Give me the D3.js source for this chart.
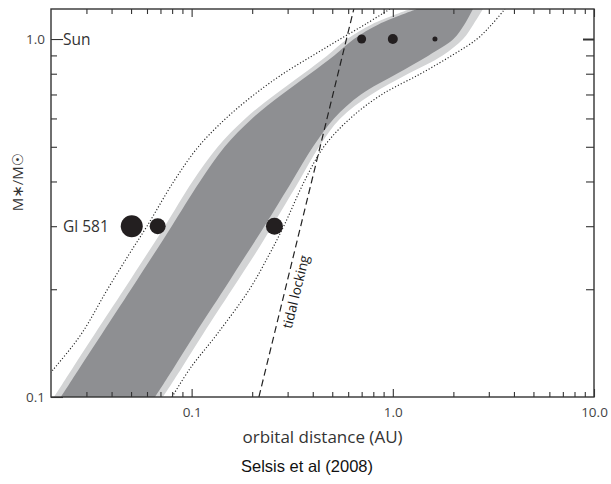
<!DOCTYPE html>
<html>
<head>
<meta charset="utf-8">
<script src="https://cdn.jsdelivr.net/npm/d3@7"></script>
<style>
  html, body { margin: 0; padding: 0; background: #fff; }
  svg { display: block; }
</style>
</head>
<body>
<svg id="chart" width="611" height="484"></svg>
<script>
// ---------- data (stellar mass in solar masses, orbital distance in AU) ----------
const massLevels  = [0.1, 0.12, 0.15, 0.2, 0.25, 0.3, 0.4, 0.5, 0.6, 0.7, 0.8, 0.9, 1.0, 1.1, 1.213];
const dottedInner = [0.0156, 0.0207, 0.0283, 0.0382, 0.0488, 0.0600, 0.0815, 0.108, 0.148, 0.205, 0.285, 0.401, 0.548, 0.731, 0.968];
const lightInner  = [0.0207, 0.0255, 0.0330, 0.0462, 0.0598, 0.0736, 0.101, 0.135, 0.185, 0.260, 0.359, 0.473, 0.593, 0.789, 1.220];
const darkInner   = [0.0224, 0.0276, 0.0358, 0.0500, 0.0647, 0.0796, 0.110, 0.146, 0.200, 0.281, 0.388, 0.512, 0.641, 0.853, 1.320];
const darkOuter   = [0.0658, 0.0810, 0.104, 0.145, 0.187, 0.230, 0.315, 0.401, 0.510, 0.694, 1.047, 1.509, 2.002, 2.273, 2.502];
const lightOuter  = [0.0720, 0.0888, 0.114, 0.159, 0.206, 0.251, 0.341, 0.430, 0.548, 0.782, 1.192, 1.769, 2.234, 2.519, 2.805];
const dottedOuter = [0.0799, 0.0981, 0.134, 0.194, 0.243, 0.287, 0.363, 0.454, 0.614, 0.882, 1.376, 1.968, 2.621, 3.111, 3.609];

const tidalMass = [0.1, 1.213];
const tidalDist = [0.216, 0.64];

const planetNames = ["Gl 581 b", "Gl 581 c", "Gl 581 d", "Venus", "Earth", "Mars"];
const planetDist  = [0.0504, 0.0678, 0.258, 0.70, 1.0, 1.62];
const planetMass  = [0.30, 0.30, 0.30, 1.0, 1.0, 1.0];
const planetSize  = [4.84, 2.56, 2.89, 0.81, 1.0, 0.25];   // relative (Earth = 1)

const xMajorTicks = [0.1, 1, 10];
const xMajorLabels = ["0.1", "1.0", "10.0"];
const xMinorTicks = [0.03,0.04,0.05,0.06,0.07,0.08,0.09,0.2,0.3,0.4,0.5,0.6,0.7,0.8,0.9,2,3,4,5,6,7,8,9];
const yMajorTicks = [0.1, 1.0];
const yMajorLabels = ["0.1", "1.0"];
const yMinorTicks = [0.2,0.3,0.4,0.5,0.6,0.7,0.8,0.9];

const starLabels = [{text: "Sun", mass: 1.0}, {text: "Gl 581", mass: 0.30}];

// ---------- layout ----------
const svg = d3.select("#chart");
const L = 51, R = 594, T = 9, B = 397;
const x = d3.scaleLog().domain([0.02, 10]).range([L, R]);
const y = d3.scaleLog().domain([0.1, 1.213]).range([B, T]);
const rScale = d3.scaleSqrt().domain([0, 1]).range([0, 5]);

const fontUI = "'Open Sans', 'DejaVu Sans', sans-serif";
const inkCol = "#333";

svg.append("defs").append("clipPath").attr("id", "plotClip")
  .append("rect").attr("x", L).attr("y", T).attr("width", R - L).attr("height", B - T);

const plot = svg.append("g").attr("clip-path", "url(#plotClip)");

const rows = massLevels.map((m, i) => ({
  m, di: dottedInner[i], li: lightInner[i], dki: darkInner[i],
  dko: darkOuter[i], lo: lightOuter[i], dout: dottedOuter[i]
}));

const curve = d3.curveCatmullRom.alpha(0.5);

plot.append("path").datum(rows)
  .attr("fill", "#d3d4d5")
  .attr("d", d3.area().curve(curve).y(d => y(d.m)).x0(d => x(d.li)).x1(d => x(d.lo)));

plot.append("path").datum(rows)
  .attr("fill", "#8e8f92")
  .attr("d", d3.area().curve(curve).y(d => y(d.m)).x0(d => x(d.dki)).x1(d => x(d.dko)));

const dotted = (key) => d3.line().curve(curve).x(d => x(d[key])).y(d => y(d.m));
["di", "dout"].forEach(k => {
  plot.append("path").datum(rows)
    .attr("fill", "none").attr("stroke", "#222").attr("stroke-width", 1.15)
    .attr("stroke-dasharray", "1.15 2")
    .attr("d", dotted(k));
});

// tidal locking line
const tidal = tidalMass.map((m, i) => ({m, a: tidalDist[i]}));
plot.append("path").datum(tidal)
  .attr("fill", "none").attr("stroke", "#222").attr("stroke-width", 1.2)
  .attr("stroke-dasharray", "7 4")
  .attr("d", d3.line().x(d => x(d.a)).y(d => y(d.m)));

// label along tidal line
{
  const p0 = [x(tidal[0].a), y(tidal[0].m)], p1 = [x(tidal[1].a), y(tidal[1].m)];
  const ang = Math.atan2(p1[1] - p0[1], p1[0] - p0[0]) * 180 / Math.PI;
  const mLab = 0.2;
  const t = (Math.log(mLab) - Math.log(tidal[0].m)) / (Math.log(tidal[1].m) - Math.log(tidal[0].m));
  const px = p0[0] + t * (p1[0] - p0[0]), py = p0[1] + t * (p1[1] - p0[1]);
  const rad = ang * Math.PI / 180;
  const off = 12;
  const cx = px - Math.sin(rad) * off, cy = py + Math.cos(rad) * off;
  svg.append("text")
    .attr("transform", `translate(${cx},${cy}) rotate(${ang})`)
    .attr("text-anchor", "middle").attr("dominant-baseline", "middle")
    .attr("font-family", fontUI).attr("font-size", 13.5).attr("fill", "#1a1a1a")
    .text("tidal locking");
}

// planets
plot.selectAll("circle.planet").data(planetNames.map((n, i) => ({n, a: planetDist[i], m: planetMass[i], s: planetSize[i]})))
  .join("circle").attr("class", "planet")
  .attr("cx", d => x(d.a)).attr("cy", d => y(d.m)).attr("r", d => rScale(d.s))
  .attr("fill", "#231f20");

// ---------- axes ----------
function styleAxis(g) {
  g.select(".domain").remove();
  g.selectAll(".tick line").attr("stroke", inkCol).attr("stroke-width", 1.1);
  g.selectAll(".tick text").attr("font-family", fontUI).attr("font-size", 13.5).attr("fill", "#444");
}
// bottom
svg.append("g").attr("transform", `translate(0,${B})`)
  .call(d3.axisBottom(x).tickValues(xMinorTicks).tickSize(-5).tickSizeOuter(0).tickFormat(""))
  .call(styleAxis);
svg.append("g").attr("transform", `translate(0,${B})`)
  .call(d3.axisBottom(x).tickValues(xMajorTicks).tickSize(-8).tickSizeOuter(0).tickPadding(10)
        .tickFormat((d, i) => xMajorLabels[i]))
  .call(styleAxis);
// top
svg.append("g").attr("transform", `translate(0,${T})`)
  .call(d3.axisTop(x).tickValues(xMinorTicks).tickSize(-5).tickSizeOuter(0).tickFormat(""))
  .call(styleAxis);
svg.append("g").attr("transform", `translate(0,${T})`)
  .call(d3.axisTop(x).tickValues(xMajorTicks).tickSize(-8).tickSizeOuter(0).tickFormat(""))
  .call(styleAxis);
// left
svg.append("g").attr("transform", `translate(${L},0)`)
  .call(d3.axisLeft(y).tickValues(yMinorTicks).tickSize(-6).tickSizeOuter(0).tickFormat(""))
  .call(styleAxis);
svg.append("g").attr("transform", `translate(${L},0)`)
  .call(d3.axisLeft(y).tickValues(yMajorTicks).tickSize(-12).tickSizeOuter(0).tickPadding(6)
        .tickFormat((d, i) => yMajorLabels[i]))
  .call(styleAxis)
  .call(g => g.selectAll(".tick text").attr("x", -6));
// right
svg.append("g").attr("transform", `translate(${R},0)`)
  .call(d3.axisRight(y).tickValues(yMinorTicks).tickSize(-8).tickSizeOuter(0).tickFormat(""))
  .call(styleAxis);
svg.append("g").attr("transform", `translate(${R},0)`)
  .call(d3.axisRight(y).tickValues([1.0]).tickSize(-11).tickSizeOuter(0).tickFormat(""))
  .call(styleAxis)
  .call(g => g.selectAll(".tick line").attr("stroke-width", 2));

// frame
svg.append("rect").attr("x", L).attr("y", T).attr("width", R - L).attr("height", B - T)
  .attr("fill", "none").attr("stroke", inkCol).attr("stroke-width", 1.4);

// star labels
svg.selectAll("text.star").data(starLabels).join("text").attr("class", "star")
  .attr("x", L + 12).attr("y", d => y(d.mass)).attr("dy", "0.36em")
  .attr("font-family", fontUI).attr("font-size", 15.5).attr("fill", "#333")
  .text(d => d.text);

// axis titles
svg.append("text").attr("x", (L + R) / 2).attr("y", 437).attr("dy", "0.35em")
  .attr("text-anchor", "middle").attr("font-family", fontUI).attr("font-size", 17).attr("fill", "#333")
  .text("orbital distance (AU)");
svg.append("text").attr("transform", `translate(18,182) rotate(-90)`)
  .attr("text-anchor", "middle").attr("dy", "0.35em")
  .attr("font-family", fontUI).attr("font-size", 15).attr("fill", "#333")
  .text("M∗/M☉");

// caption
svg.append("text").attr("x", 307).attr("y", 466).attr("dy", "0.35em")
  .attr("text-anchor", "middle").attr("font-family", "'Liberation Sans', Arial, sans-serif")
  .attr("font-size", 16.5).attr("fill", "#111")
  .text("Selsis et al (2008)");
</script>
</body>
</html>
